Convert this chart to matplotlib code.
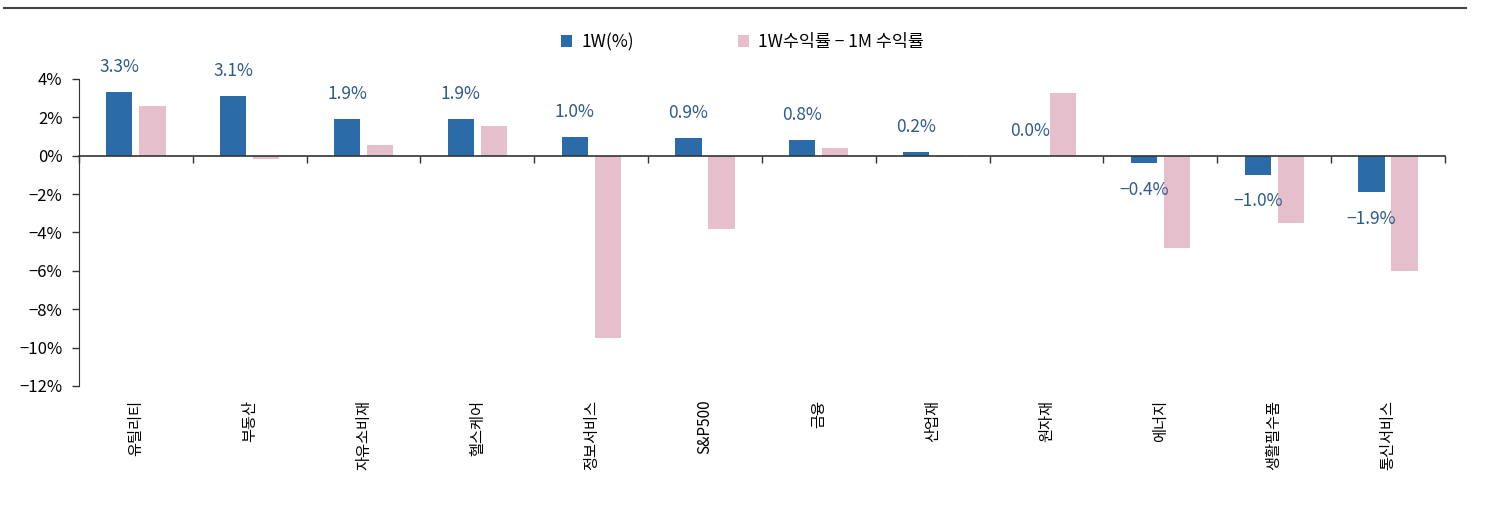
import numpy as np
import matplotlib
matplotlib.use("Agg")
import matplotlib.pyplot as plt
from matplotlib.lines import Line2D
from matplotlib.transforms import blended_transform_factory

plt.rcParams['font.family'] = ['Noto Sans CJK KR', 'DejaVu Sans']

# data
sectors = ['유틸리티', '부동산', '자유소비재', '헬스케어', '정보서비스', 'S&P500',
           '금융', '산업재', '원자재', '에너지', '생활필수품', '통신서비스']
ret_1w = [3.3, 3.1, 1.9, 1.9, 1.0, 0.9, 0.8, 0.2, 0.0, -0.4, -1.0, -1.9]
diff_1w_1m = [2.6, -0.15, 0.57, 1.56, -9.5, -3.8, 0.42, -0.07, 3.28, -4.8, -3.5, -6.0]
yticks = [4, 2, 0, -2, -4, -6, -8, -10, -12]

blue = '#2B6CA8'
pink = '#E5BFCB'
label_col = '#2E5A8C'

fig = plt.figure(figsize=(14.85, 5.08), dpi=100)
ax = fig.add_axes([0.0532, 0.2402, 0.9198, 0.6043])

x = np.arange(len(sectors))
w = 0.23
off = 0.145
ax.bar(x - off, ret_1w, w, color=blue, label='1W(%)')
ax.bar(x + off, diff_1w_1m, w, color=pink, label='1W수익률 − 1M 수익률')

ax.set_xlim(-0.5, len(sectors) - 0.5)
ax.set_ylim(-12, 4)
ax.set_yticks(yticks)
ax.set_yticklabels([f'{t}%'.replace('-', '−') for t in yticks], fontsize=12)
ax.tick_params(axis='y', direction='out', length=5, width=1, pad=7,
               colors='#333333', labelcolor='black')

for s in ['top', 'right']:
    ax.spines[s].set_visible(False)
ax.spines['left'].set_color('#333333')
ax.spines['bottom'].set_position(('data', 0))
ax.spines['bottom'].set_color('#333333')
ax.spines['bottom'].set_linewidth(1.2)

ax.set_xticks(np.arange(len(sectors) + 1) - 0.5)
ax.set_xticklabels([])
ax.tick_params(axis='x', direction='out', length=5, width=1, colors='#333333')

trans = blended_transform_factory(ax.transData, ax.transAxes)
for i, name in enumerate(sectors):
    ax.text(i, -0.045, name, transform=trans, rotation=90, ha='center', va='top', fontsize=11)

# value labels on blue bars
for i, v in enumerate(ret_1w):
    txt = f'{v:.1f}%'.replace('-', '−')
    dy = 18 if v >= 0 else -19
    ax.annotate(txt, (i - off, v), xytext=(0, dy), textcoords='offset points',
                ha='center', va='center', fontsize=12.5, color=label_col)

fig.legend(loc='center', bbox_to_anchor=(0.5, 0.917), ncol=2, frameon=False,
           fontsize=12.5, handlelength=0.65, handleheight=0.65, handletextpad=0.5,
           columnspacing=6.0)

fig.add_artist(Line2D([0.003, 0.987], [0.984, 0.984], color='#444444', lw=1.5,
                      transform=fig.transFigure))

fig.savefig('out.png', dpi=100)
